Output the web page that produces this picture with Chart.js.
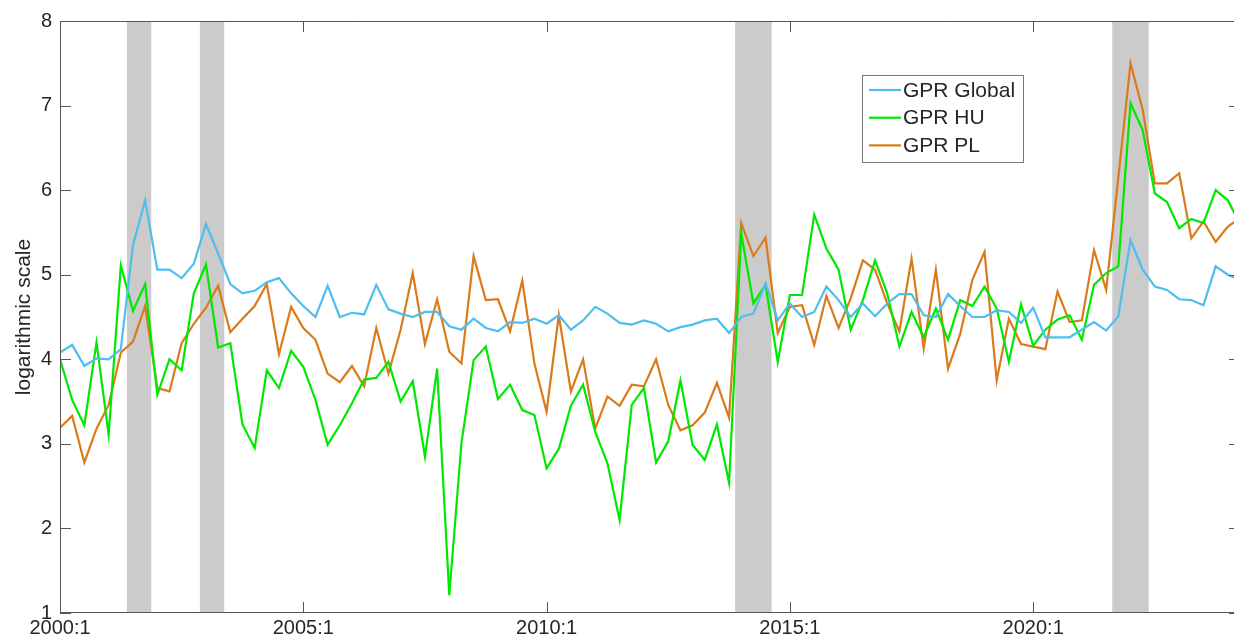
<!DOCTYPE html>
<html>
<head>
<meta charset="utf-8">
<title>GPR Global, HU, PL</title>
<script src="https://cdn.jsdelivr.net/npm/chart.js@4.4.1/dist/chart.umd.min.js"></script>
<style>
    html, body { margin: 0; padding: 0; background: #fff; overflow: hidden; }
    #wrap { width: 1240px; height: 637px; }
</style>
</head>
<body>
<div id="wrap"><canvas id="chart" width="1240" height="637"></canvas></div>
<script>
// quarterly observations, index 0 = 2000:1
const seriesNames = ["GPR Global", "GPR HU", "GPR PL"];

const gprGlobal = [
    4.08, 4.17, 3.92, 4.01, 4.00, 4.12, 5.35, 5.88, 5.06, 5.06,
    4.96, 5.13, 5.60, 5.25, 4.89, 4.78, 4.81, 4.91, 4.96, 4.78,
    4.63, 4.50, 4.87, 4.50, 4.55, 4.53, 4.88, 4.59, 4.54, 4.50,
    4.56, 4.56, 4.39, 4.35, 4.48, 4.37, 4.33, 4.44, 4.43, 4.48,
    4.42, 4.52, 4.35, 4.46, 4.62, 4.54, 4.43, 4.41, 4.46, 4.42,
    4.33, 4.38, 4.41, 4.46, 4.48, 4.31, 4.50, 4.54, 4.90, 4.46,
    4.66, 4.50, 4.56, 4.86, 4.70, 4.50, 4.66, 4.51, 4.66, 4.77,
    4.77, 4.52, 4.50, 4.77, 4.63, 4.50, 4.50, 4.58, 4.56, 4.43,
    4.61, 4.26, 4.26, 4.26, 4.35, 4.44, 4.34, 4.51, 5.41, 5.06,
    4.86, 4.82, 4.71, 4.70, 4.64, 5.10, 5.00, 4.94
];

const gprHU = [
    4.00, 3.52, 3.22, 4.20, 3.11, 5.11, 4.57, 4.89, 3.58, 4.00,
    3.87, 4.78, 5.12, 4.14, 4.19, 3.23, 2.95, 3.87, 3.66, 4.10,
    3.91, 3.52, 2.99, 3.22, 3.48, 3.76, 3.78, 3.97, 3.50, 3.74,
    2.85, 3.89, 1.21, 3.01, 3.99, 4.15, 3.53, 3.70, 3.40, 3.34,
    2.71, 2.94, 3.45, 3.70, 3.14, 2.77, 2.10, 3.46, 3.66, 2.78,
    3.03, 3.75, 2.99, 2.81, 3.23, 2.54, 5.49, 4.66, 4.88, 3.97,
    4.76, 4.76, 5.71, 5.31, 5.06, 4.35, 4.70, 5.17, 4.78, 4.15,
    4.56, 4.26, 4.60, 4.23, 4.70, 4.63, 4.86, 4.60, 3.97, 4.65,
    4.16, 4.35, 4.47, 4.52, 4.23, 4.88, 5.02, 5.10, 7.03, 6.71,
    5.96, 5.86, 5.55, 5.66, 5.61, 6.00, 5.88, 5.60
];

const gprPL = [
    3.19, 3.33, 2.78, 3.18, 3.46, 4.08, 4.21, 4.63, 3.66, 3.62,
    4.19, 4.42, 4.61, 4.87, 4.32, 4.48, 4.63, 4.89, 4.06, 4.62,
    4.37, 4.23, 3.83, 3.73, 3.92, 3.68, 4.37, 3.83, 4.35, 5.02,
    4.18, 4.71, 4.09, 3.95, 5.22, 4.70, 4.71, 4.33, 4.93, 3.95,
    3.38, 4.52, 3.62, 4.00, 3.18, 3.56, 3.45, 3.70, 3.68, 4.00,
    3.46, 3.16, 3.22, 3.37, 3.72, 3.31, 5.61, 5.22, 5.44, 4.31,
    4.62, 4.64, 4.17, 4.75, 4.37, 4.72, 5.17, 5.06, 4.66, 4.33,
    5.19, 4.13, 5.06, 3.89, 4.30, 4.94, 5.27, 3.75, 4.48, 4.18,
    4.15, 4.12, 4.80, 4.44, 4.46, 5.29, 4.82, 6.15, 7.50, 6.95,
    6.08, 6.08, 6.20, 5.43, 5.63, 5.39, 5.57, 5.67
];

const xTickPos = [0, 20, 40, 60, 80];
const xTickLabels = ["2000:1", "2005:1", "2010:1", "2015:1", "2020:1"];
const yTicks = [1, 2, 3, 4, 5, 6, 7, 8];

// shaded periods, in quarter index units
const shadedBands = [[5.5, 7.5], [11.5, 13.5], [55.5, 58.5], [86.5, 89.5]];

const colors = ["#4DBEEE", "#00E800", "#DB7A1A"];
const FONT = "'Liberation Sans', Arial, sans-serif";
const TEXT = "#262626";
const AXIS = "#555555";

const toPoints = arr => arr.map((v, i) => ({ x: i, y: v }));

const matlabAxes = {
    id: "matlabAxes",
    beforeDatasetsDraw(chart) {
        const { ctx, chartArea: a, scales: { x } } = chart;
        ctx.save();
        ctx.fillStyle = "#CBCBCB";
        shadedBands.forEach(([s, e]) => {
            const x1 = x.getPixelForValue(s);
            const x2 = x.getPixelForValue(e);
            ctx.fillRect(x1, a.top, x2 - x1, a.bottom - a.top);
        });
        ctx.restore();
    },
    afterDatasetsDraw(chart) {
        const { ctx, chartArea: a, scales: { x, y } } = chart;
        const tl = 11;
        ctx.save();
        ctx.strokeStyle = AXIS;
        ctx.lineWidth = 1;
        ctx.beginPath();
        ctx.rect(a.left + 0.5, a.top + 0.5, a.right - a.left - 1, a.bottom - a.top - 1);
        y.ticks.forEach(t => {
            const py = Math.round(y.getPixelForValue(t.value)) + 0.5;
            ctx.moveTo(a.left, py); ctx.lineTo(a.left + tl, py);
            ctx.moveTo(a.right, py); ctx.lineTo(a.right - tl, py);
        });
        x.ticks.forEach(t => {
            const px = Math.round(x.getPixelForValue(t.value)) + 0.5;
            ctx.moveTo(px, a.bottom); ctx.lineTo(px, a.bottom - tl);
            ctx.moveTo(px, a.top); ctx.lineTo(px, a.top + tl);
        });
        ctx.stroke();

        // legend box inside the plot, upper right
        const lx = 862, ly = 75, lw = 161, lh = 87;
        ctx.fillStyle = "#fff";
        ctx.fillRect(lx, ly, lw, lh);
        ctx.strokeStyle = "#777";
        ctx.strokeRect(lx + 0.5, ly + 0.5, lw, lh);
        ctx.font = "21px " + FONT;
        ctx.textBaseline = "middle";
        chart.data.datasets.forEach((ds, k) => {
            const ry = ly + 15 + k * 27.7;
            ctx.strokeStyle = ds.borderColor;
            ctx.lineWidth = 2.2;
            ctx.beginPath();
            ctx.moveTo(869, ry); ctx.lineTo(901, ry);
            ctx.stroke();
            ctx.fillStyle = TEXT;
            ctx.fillText(ds.label, 903, ry + 1);
        });
        ctx.restore();
    }
};

const datasets = [gprGlobal, gprHU, gprPL].map((arr, k) => ({
    label: seriesNames[k],
    data: toPoints(arr),
    borderColor: colors[k],
    backgroundColor: colors[k],
    borderWidth: 2.2,
    pointRadius: 0,
    tension: 0,
    fill: false
}));

new Chart(document.getElementById("chart"), {
    type: "line",
    data: { datasets },
    options: {
        responsive: false,
        animation: false,
        layout: { padding: { top: 21, right: 0, left: 0, bottom: 0 } },
        plugins: { legend: { display: false }, tooltip: { enabled: false } },
        scales: {
            x: {
                type: "linear",
                min: 0,
                max: 97,
                grid: { display: false, drawTicks: false },
                border: { display: false },
                afterBuildTicks: s => { s.ticks = xTickPos.map(v => ({ value: v })); },
                afterFit: s => { s.height = 24; },
                ticks: {
                    autoSkip: false,
                    maxRotation: 0,
                    padding: 3,
                    color: TEXT,
                    font: { family: FONT, size: 20 },
                    callback: v => xTickLabels[xTickPos.indexOf(v)]
                }
            },
            y: {
                min: 1,
                max: 8,
                grid: { display: false, drawTicks: false },
                border: { display: false },
                afterBuildTicks: s => { s.ticks = yTicks.map(v => ({ value: v })); },
                afterFit: s => { s.width = 60; },
                title: {
                    display: true,
                    text: "logarithmic scale",
                    color: TEXT,
                    font: { family: FONT, size: 21 },
                    padding: { top: 12, bottom: 0 }
                },
                ticks: {
                    padding: 8,
                    color: TEXT,
                    font: { family: FONT, size: 20 }
                }
            }
        }
    },
    plugins: [matlabAxes]
});
</script>
</body>
</html>
